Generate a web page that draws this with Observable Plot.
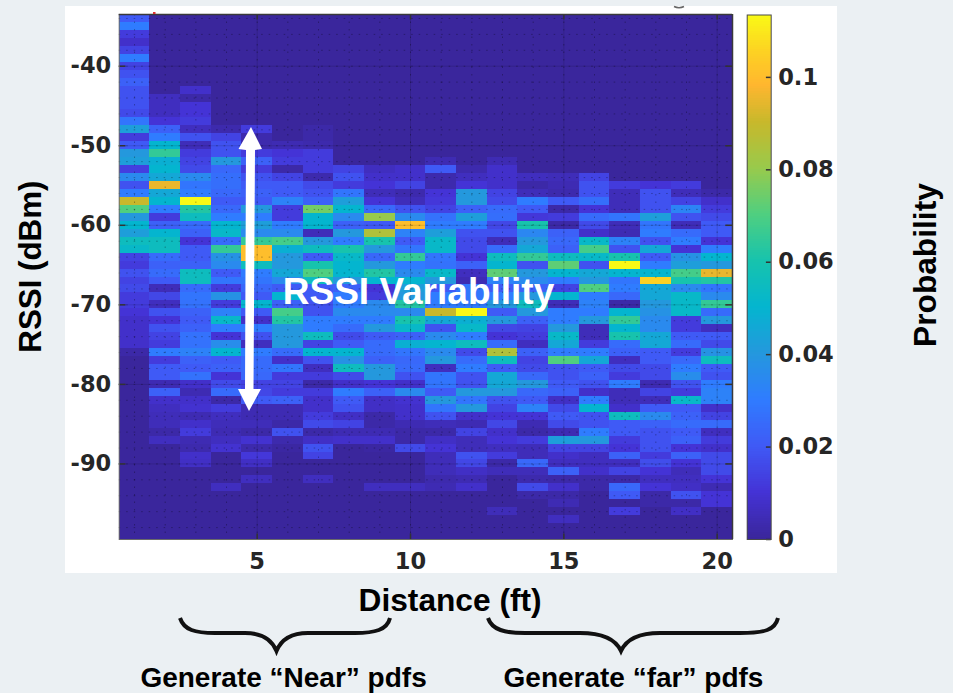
<!DOCTYPE html>
<html><head><meta charset="utf-8">
<script src="https://cdn.jsdelivr.net/npm/d3@7"></script>
<script src="https://cdn.jsdelivr.net/npm/@observablehq/plot@0.6"></script>
<style>
html,body{margin:0;padding:0;background:#ebf0f3}
#stage{position:relative;width:953px;height:693px;overflow:hidden;background:#ebf0f3}
#panel{position:absolute;left:65px;top:6px;width:772px;height:567px;background:#fff}
#stage svg{position:absolute;left:0;top:0}
</style></head><body>
<div id="stage"><div id="panel"></div></div>
<script>
// top RSSI bin (dBm) of each distance column; rows run downward 1 dBm at a time, unlisted bins are 0
const colTop = [-34,-44,-43,-48,-48,-50,-48,-53,-53,-53,-52,-53,-52,-54,-54,-54,-55,-55,-55,-56];
const col01 = [.02,.03,.012,.008,.014,.03,.014,.018,.022,.018,.018,.018,.016,.028,.042,.012,.02,.04,.042,.013,.035,.018,.03,.09,.07,.04,.05,.042,.055,.052,.014,.012,.018,.014,.016,.012,.012,.01,.008,.008,.008,.008,.002];
const col02 = [.006,.006,.006,.01,.022,.03,.05,.065,.048,.05,.045,.095,.045,.05,.03,.012,.022,.05,.055,.055,.025,.022,.025,.02,.005,.015,.006,.018,.01,.018,.014,.012,.03,.012,.02,.02,.004,.022,.008,.006,.005,.005,.002,.006];
const col03 = [.008,.002,.01,.01,.012,.006,.018,.005,.012,.014,.016,.035,.028,.03,.113,.062,.055,.025,.022,.01,.02,.02,.022,.055,.055,.025,.028,.027,.022,.02,.022,.027,.027,.032,.022,.02,.027,.008,.004,.008,.009,.004,.008,.012,.004,.003,.008,.007];
const col04 = [.003,.014,.018,.018,.04,.024,.026,.026,.024,.02,.024,.03,.05,.052,.025,.065,.038,.035,.02,.028,.012,.038,.012,.032,.052,.03,.01,.036,.05,.02,.022,.01,.016,.025,.002,.012,.006,.005,.004,.006,.009,0,0,0,0,.006];
const col05 = [.012,.003,.003,.012,.022,.012,.018,.02,.022,.02,.04,.03,.042,.035,.065,.1,.1,.055,.03,.028,.024,.02,.05,.02,.008,.03,.018,.006,.03,.025,.025,.024,.014,.015,.02,.004,.004,.005,.002,.009,.003,.011,.007,0,.006];
const col06 = [.004,.01,.012,.002,.014,.02,.02,.032,.012,.012,.03,.035,.068,.048,.04,.04,.045,.035,.02,.05,.022,.068,.062,.04,.04,.04,.025,.008,.028,.012,.014,.012,.022,.004,.004,.002,.018,.003,.001];
const col07 = [.002,.002,.003,.012,.012,.012,.003,.016,.018,.022,.075,.05,.05,.005,.04,.055,.02,.06,.07,.055,.02,.02,.018,.018,.03,.03,.055,.014,.05,.018,.006,.012,.002,.012,.008,.008,.012,.016,.002,.007,.018,.014,0,0,.006];
const col08 = [.014,.018,.012,.028,.042,.05,.035,.022,.04,.03,.06,.052,.05,.05,.04,.022,.03,.03,.035,.03,.025,.016,.02,.05,.038,.055,.016,.008,.03,.02,.018,.007,.014,.004,.008];
const col09 = [.006,.008,.01,.005,.01,.024,.08,.02,.085,.06,.04,.024,.04,.062,.05,.01,.012,.035,.035,.03,.04,.02,.025,.025,.022,.04,.04,.01,.022,.007,.007,.002,.002,.004,.008,.001,0,0,0,0,.006];
const col10 = [.008,.008,.014,.003,.005,.018,.035,.1,.032,.02,.028,.065,.03,.035,.05,.042,.04,.062,.035,.06,.052,.022,.048,.028,.024,.025,.018,.008,.035,.009,.008,.008,.004,.002,.002,.016,0,0,0,0,.006];
const col11 = [.004,.02,.003,.003,.01,.011,.014,.027,.03,.042,.052,.052,.028,.027,.052,.04,.02,.03,.03,.09,.045,.018,.035,.05,.035,.04,.006,.028,.028,.02,.04,.028,.018,.005,.002,.007,.01,.005,.005,.005,.003,.004];
const col12 = [.003,.006,.01,.04,.04,.022,.042,.03,.018,.016,.016,.01,.022,.006,.004,.028,.028,.03,.113,.048,.052,.03,.055,.016,.025,.03,.018,.018,.04,.028,.04,.008,.004,.014,.005,.005,.018,.015,.007,.004,.008];
const col13 = [.004,.008,.008,.008,.014,.016,.025,.026,.015,.018,.005,.025,.055,.05,.072,.032,.02,.03,.04,.02,.04,.015,.01,.025,.085,.055,.02,.045,.045,.04,.018,.014,.01,.015,.008,.01,.006,.012,.002,.005,0,0,0,0,.005];
const col14 = [.006,.002,.005,.03,.02,.011,.06,.034,.04,.045,.065,.018,.04,.035,.022,.04,.055,.04,.022,.014,.012,.006,.022,.014,.016,.024,.04,.024,.02,.032,.01,.004,.002,.012,.005,.005,.024,.005,.003,.016,.002];
const col15 = [.005,.004,.003,.02,.002,.012,.002,.022,.024,.022,.055,.072,.05,.03,.014,.05,.005,.03,.03,.04,.052,.045,.03,.07,.018,.018,.02,.022,.007,.016,.02,.016,.004,.042,.014,.008,.006,.022,.002,.008,.002,.004,0,.006];
const col16 = [.014,.018,.018,.026,.01,.025,.016,.008,.052,.068,.052,.018,.045,.04,.07,.03,.032,.03,.04,.005,.005,.012,.03,.045,.02,.022,.018,.008,.03,.05,.018,.018,.03,.04,.014,.006,.006,.008,.002,.002];
const col17 = [.012,.005,.005,.005,.028,.005,.004,.032,.018,.06,.113,.05,.028,.03,.024,.002,.05,.065,.05,.06,.025,.022,.006,.016,.012,.03,.005,.005,.008,.055,.02,.02,.012,.01,.022,.006,.014,.002,.024,.02,0,.012];
const col18 = [.01,.018,.018,.018,.042,.028,.03,.018,.045,.02,.03,.05,.105,.045,.045,.04,.038,.035,.035,.045,.045,.02,.02,.016,.016,.004,.014,.005,.02,.035,.022,.018,.018,.018,.012,.017,.01,.006,.01,.002,.002];
const col19 = [.012,.005,.014,.033,.018,.005,.025,.03,.01,.038,.042,.068,.06,.035,.052,.052,.052,.012,.012,.02,.025,.012,.024,.03,.036,.018,.012,.052,.02,.022,.025,.02,.022,.01,.022,.01,.005,.006,.007,.018,.002,.007];
const col20 = [.002,.008,.012,.016,.02,.02,.01,.03,.05,.04,.095,.062,.028,.035,.065,.025,.04,.006,.02,.016,.038,.055,.02,.018,.03,.032,.032,.008,.014,.025,.006,.012,.008,.016,.016,.016,.01,.004,.01,.01];
const columns = [col01,col02,col03,col04,col05,col06,col07,col08,col09,col10,col11,col12,col13,col14,col15,col16,col17,col18,col19,col20];

const xTicks = [5,10,15,20];
const yTicks = [-40,-50,-60,-70,-80,-90];
const barTicks = [0,.02,.04,.06,.08,.1];
const stopValues = [0,.01,.02,.03,.04,.05,.06,.07,.08,.09,.098,.105,.1135];
const stopColors = ["#3a269c","#4433d6","#3f5af6","#2f7cff","#2498dd","#04b5cf","#17c3ad","#4fcf80","#98ca4c","#c8b82b","#ffb62f","#fdd123","#f9fb15"];

const cells = [];
columns.forEach((col,i)=>{
  for(let db=-34;db>=-99;db--){
    const v = col[colTop[i]-db];
    cells.push({dist:i+1,db,p:(db<=colTop[i]&&v!==undefined)?v:0});
  }
});
const toColor = d3.scaleLinear().domain(stopValues).range(stopColors);
const colorOpt = {type:"linear",domain:[0,.1135],interpolate:()=>t=>toColor(t*.1135)};
const W=953,H=693;
const sans='"Liberation Sans"', deja='"DejaVu Sans"';
const stage=document.getElementById("stage");
const dotX=d3.range(1,21), dotY=d3.range(-34,-99,-2);
const main=Plot.plot({
  width:W,height:H,marginLeft:118.7,marginRight:221,marginTop:14,marginBottom:154,
  style:{background:"transparent",overflow:"visible",fontFamily:deja,fontWeight:"bold",fontSize:"22.5px",color:"#262626"},
  x:{domain:[.5,20.5]},y:{domain:[-99.5,-33.5]},color:colorOpt,
  marks:[
    Plot.rect(cells,{x1:d=>d.dist-.5,x2:d=>d.dist+.5,y1:d=>d.db-.5,y2:d=>d.db+.5,fill:"p",inset:0,shapeRendering:"crispEdges"}),
    Plot.ruleX(dotX,{stroke:"#000",strokeOpacity:.3,strokeDasharray:"1.5,6"}),
    Plot.ruleY(dotY,{stroke:"#000",strokeOpacity:.3,strokeDasharray:"1.5,6"}),
    Plot.ruleX(xTicks,{stroke:"#000",strokeOpacity:.12}),
    Plot.ruleY(yTicks,{stroke:"#000",strokeOpacity:.12}),
    Plot.ruleX(xTicks,{y1:-33.5,y2:-34.2,stroke:"#333",strokeWidth:1.5}),
    Plot.ruleX(xTicks,{y1:-99.5,y2:-98.8,stroke:"#333",strokeWidth:1.5}),
    Plot.ruleY(yTicks,{x1:.5,x2:.72,stroke:"#333",strokeWidth:1.5}),
    Plot.ruleY(yTicks,{x1:20.28,x2:20.5,stroke:"#333",strokeWidth:1.5}),
    Plot.frame({stroke:"#6a6a6a"}),
    Plot.ruleY([-33.5],{stroke:"#3a3a3a",strokeWidth:1.5}),
    Plot.ruleX([20.5],{stroke:"#3a3a3a",strokeWidth:1.5}),
    Plot.axisX({ticks:xTicks,tickSize:0,tickPadding:14,label:null,tickFormat:String}),
    Plot.axisY({ticks:yTicks,tickSize:0,tickPadding:8,label:null,tickFormat:String}),
    Plot.text(["RSSI Variability"],{x:10.26,y:-68.4,fontFamily:sans,fontWeight:"bold",fontSize:37,fill:"#fff"}),
    Plot.text(["Distance (ft)"],{x:11.29,y:-107.2,fontFamily:sans,fontWeight:"bold",fontSize:31.7,fill:"#000"}),
    Plot.text(["RSSI (dBm)"],{x:-2.37,y:-65.2,rotate:-90,fontFamily:sans,fontWeight:"bold",fontSize:31.3,fill:"#000"}),
    Plot.text(["Probability"],{x:26.8,y:-65,rotate:-90,fontFamily:sans,fontWeight:"bold",fontSize:31.7,fill:"#000"}),
    Plot.text(["Generate “Near” pdfs"],{x:5.86,y:-116.9,fontFamily:sans,fontWeight:"bold",fontSize:28,fill:"#000"}),
    Plot.text(["Generate “far” pdfs"],{x:17.27,y:-116.9,fontFamily:sans,fontWeight:"bold",fontSize:28,fill:"#000"})
  ]
});
stage.appendChild(main);
const barSteps=d3.range(0,.1135,.0005);
const bar=Plot.plot({
  width:W,height:H,marginLeft:746.7,marginRight:182.3,marginTop:14.5,marginBottom:154,
  style:{background:"transparent",overflow:"visible",fontFamily:deja,fontWeight:"bold",fontSize:"22.5px",color:"#262626"},
  x:{domain:[0,1],axis:null},y:{domain:[0,.1135]},color:colorOpt,
  marks:[
    Plot.rect(barSteps,{x1:0,x2:1,y1:d=>d,y2:d=>d+.0005,fill:d=>d,inset:0,shapeRendering:"crispEdges"}),
    Plot.ruleY(barTicks,{x1:.8,x2:1,stroke:"#333",strokeWidth:1.5}),
    Plot.frame({stroke:"#4a4a4a"}),
    Plot.axisY({anchor:"right",ticks:barTicks,tickSize:0,tickPadding:7,label:null,tickFormat:d=>String(d)})
  ]
});
stage.appendChild(bar);
const ns="http://www.w3.org/2000/svg";
const over=document.createElementNS(ns,"svg");
over.setAttribute("width",W);over.setAttribute("height",H);
over.innerHTML=`
<path d="M246,150 L238.5,149 L251,127 L262,149 L255,150 L253.5,389 L261,389 L249,411 L238,389 L245,389 Z" fill="#fff"/>
<path d="M180,618 C184,630 195,633 215,633 L245,633 C262,633 272,640 276.5,651 C281,640 291,633 308,633 L355,633 C375,633 387,630 390,618" fill="none" stroke="#111" stroke-width="4"/>
<path d="M488,618 C492,630 505,633 525,633 L580,633 C605,633 616,640 621,651 C626,640 637,633 660,633 L740,633 C765,633 775,630 778,618" fill="none" stroke="#111" stroke-width="4"/>
<rect x="153" y="12" width="2.5" height="2" fill="#e03030"/>
<path d="M674,6.5 Q679,9 684,6.5" fill="none" stroke="#666" stroke-width="1.5"/>`;
stage.appendChild(over);
</script>
</body></html>
